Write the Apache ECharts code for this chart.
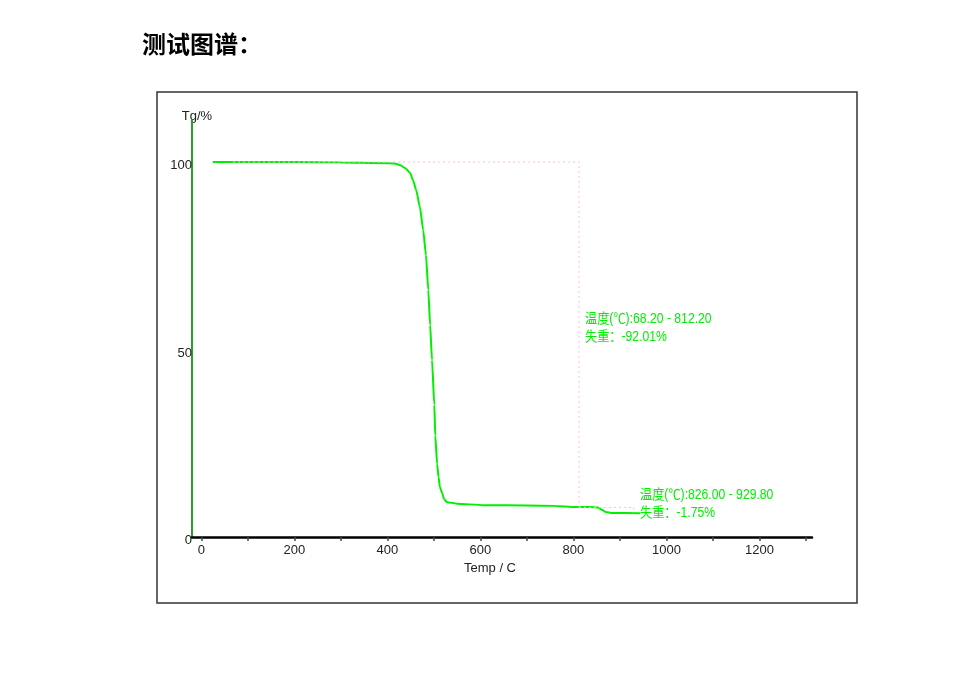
<!DOCTYPE html>
<html>
<head>
<meta charset="utf-8">
<script src="https://cdn.jsdelivr.net/npm/echarts@6/dist/echarts.min.js"></script>
<style>html,body{margin:0;padding:0;background:#fff}#c{width:979px;height:675px}</style>
</head>
<body>
<div id="c"></div>
<script>
// Data
var temps = [25, 68.2, 200, 300, 391, 416, 427, 438, 449, 455, 462, 470, 477, 483, 488, 492, 496, 501, 503, 507, 510, 513, 518, 522, 528, 550, 606, 700, 761, 804, 812.2, 836, 853, 862, 869, 884, 944];
var tgValues = [100, 100, 100, 99.9, 99.7, 99.6, 99.2, 98.4, 97.1, 95.2, 92.5, 88, 81.9, 75.2, 65.9, 56.5, 47.2, 35.2, 27, 19.5, 16, 13.3, 11.7, 10.1, 9.3, 8.9, 8.5, 8.4, 8.3, 8.0, 8.0, 8.0, 7.9, 7.2, 6.7, 6.4, 6.35];
var xTicks = [0, 100, 200, 300, 400, 500, 600, 700, 800, 900, 1000, 1100, 1200, 1300];
var xLabels = [0, 200, 400, 600, 800, 1000, 1200];
var yLabels = [0, 50, 100];
var step1 = {start: 68.2, end: 812.2, top: 100, bottom: 8.0, loss: '-92.01%'};
var step2 = {start: 826.0, end: 929.8, top: 7.9, bottom: 6.35, loss: '-1.75%'};

var latin = '"Liberation Sans", Arial, sans-serif';
var annFont = '14px "Liberation Sans", "Noto Sans CJK SC", sans-serif';
var green = '#00f000';
var chart = echarts.init(document.getElementById('c'), null, {renderer: 'canvas'});

var curve = temps.map(function (t, i) { return [t, tgValues[i]]; });
var box1 = [[step1.start, step1.top], [step1.end, step1.top], [step1.end, step1.bottom]];
var box2 = [[step1.end, step2.top], [step2.end, step2.top], [step2.end, step2.bottom]];

function ann(x, y, txt) {
  return {type: 'text', x: x, y: y, scaleX: 0.87, silent: true,
    style: {text: txt, fill: green, font: annFont, verticalAlign: 'top'}};
}

chart.setOption({
  animation: false,
  title: {
    text: '测试图谱：', left: 137, top: 27,
    textStyle: {fontFamily: 'Noto Sans CJK SC', fontWeight: 'bold', fontSize: 24, color: '#000'}
  },
  graphic: [
    {type: 'rect', shape: {x: 157, y: 92, width: 700, height: 511},
     style: {fill: 'none', stroke: '#333', lineWidth: 1.5}, silent: true, z: 0},
    ann(585, 312, '温度(℃):' + step1.start.toFixed(2) + ' - ' + step1.end.toFixed(2)),
    ann(585, 330, '失重：' + step1.loss),
    ann(640, 488, '温度(℃):' + step2.start.toFixed(2) + ' - ' + step2.end.toFixed(2)),
    ann(640, 506, '失重：' + step2.loss)
  ],
  grid: {left: 192, right: 167, top: 120, bottom: 138},
  xAxis: {
    type: 'value', min: -20, max: 1313,
    name: 'Temp / C', nameLocation: 'middle', nameGap: 21,
    nameTextStyle: {fontFamily: latin, fontSize: 13, color: '#222', padding: [0, 24, 0, 0]},
    axisLine: {show: true, lineStyle: {color: '#000', width: 2.5}},
    axisTick: {show: true, customValues: xTicks, length: 4, inside: false, lineStyle: {color: '#444', width: 1.5}},
    axisLabel: {customValues: xLabels, fontFamily: latin, fontSize: 13, color: '#222', margin: 7,
      formatter: function (v) { return String(v); }},
    splitLine: {show: false}
  },
  yAxis: {
    type: 'value', min: 0, max: 111.2,
    name: 'Tg/%', nameLocation: 'end', nameGap: -3,
    nameTextStyle: {fontFamily: latin, fontSize: 13, color: '#222', align: 'center', padding: [0, 0, 0, 10]},
    axisLine: {show: true, onZero: false, lineStyle: {color: '#2aa02a', width: 2}},
    axisTick: {show: false},
    axisLabel: {customValues: yLabels, fontFamily: latin, fontSize: 13, color: '#222', margin: 0,
      verticalAlign: 'top', lineHeight: 7, formatter: function (v) { return String(v); }},
    splitLine: {show: false}
  },
  series: [
    {type: 'line', data: box1, symbol: 'none', silent: true, z: 3,
     lineStyle: {color: '#ffb8f4', width: 1, type: [2, 3]}},
    {type: 'line', data: box2, symbol: 'none', silent: true, z: 3,
     lineStyle: {color: '#ffb8f4', width: 1, type: [2, 3]}},
    {type: 'line', data: curve, symbol: 'none', smooth: 0.2, smoothMonotone: 'x', z: 2,
     lineStyle: {color: green, width: 2}}
  ]
});
</script>
</body>
</html>
